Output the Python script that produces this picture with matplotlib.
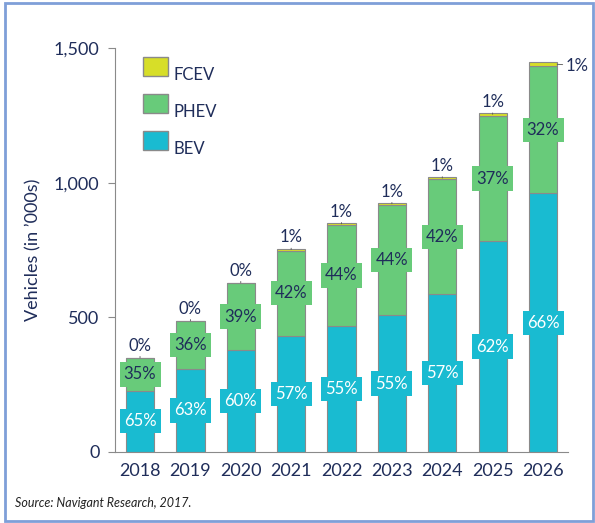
import numpy as np
import matplotlib.pyplot as plt
from matplotlib.patches import Rectangle

years = ["2018", "2019", "2020", "2021", "2022", "2023", "2024", "2025", "2026"]
bev = [227, 308, 378, 431, 468, 507, 585, 782, 960]
phev = [122, 178, 249, 317, 375, 410, 427, 466, 472]
fcev = [1, 1, 2, 7, 8, 9, 10, 12, 16]
bev_pct = ["65%", "63%", "60%", "57%", "55%", "55%", "57%", "62%", "66%"]
phev_pct = ["35%", "36%", "39%", "42%", "44%", "44%", "42%", "37%", "32%"]
fcev_pct = ["0%", "0%", "0%", "1%", "1%", "1%", "1%", "1%", "1%"]
series = ["FCEV", "PHEV", "BEV"]

navy = "#1f2d5a"
c_bev = "#19bbd1"
c_phev = "#68cb7a"
c_fcev = "#d7de28"
edge = "#8a8a8a"

plt.rcParams['font.family'] = ['Lato', 'DejaVu Sans']

fig = plt.figure(figsize=(5.95, 5.23), dpi=100)
ax = fig.add_axes([0.193, 0.136, 0.762, 0.772])

x = np.arange(len(years))
w = 0.56
bev_a = np.array(bev)
phev_a = np.array(phev)
fcev_a = np.array(fcev)
ax.bar(x, bev_a, w, color=c_bev, edgecolor=edge, linewidth=0.8)
ax.bar(x, phev_a, w, bottom=bev_a, color=c_phev, edgecolor=edge, linewidth=0.8)
ax.bar(x, fcev_a, w, bottom=bev_a + phev_a, color=c_fcev, edgecolor=edge, linewidth=0.8)

for i in range(len(years)):
    ax.text(x[i], bev[i] / 2, bev_pct[i], ha="center", va="center", color="white",
            fontsize=12, bbox=dict(boxstyle="square,pad=0.25", fc=c_bev, ec="none"))
    ax.text(x[i], bev[i] + phev[i] / 2, phev_pct[i], ha="center", va="center", color=navy,
            fontsize=12, bbox=dict(boxstyle="square,pad=0.25", fc=c_phev, ec="none"))
    top = bev[i] + phev[i] + fcev[i]
    if i < len(years) - 1:
        ax.annotate(fcev_pct[i], xy=(x[i], top - fcev[i] / 2), xytext=(0, 3),
                    textcoords="offset points", ha="center", va="bottom", color=navy,
                    fontsize=12, arrowprops=dict(arrowstyle="-", color="#555555", lw=0.6,
                                                 shrinkA=0, shrinkB=0))
    else:
        ax.annotate(fcev_pct[i], xy=(x[i] + w / 2, top - fcev[i] / 2), xytext=(6, -1),
                    textcoords="offset points", ha="left", va="center", color=navy,
                    fontsize=12, annotation_clip=False,
                    arrowprops=dict(arrowstyle="-", color="#555555", lw=0.6,
                                    shrinkA=0, shrinkB=0))

ax.set_xlim(-0.5, 8.5)
ax.set_ylim(0, 1500)
ax.set_xticks(x)
ax.set_xticklabels(years)
ax.set_yticks([0, 500, 1000, 1500])
ax.set_yticklabels(["0", "500", "1,000", "1,500"])
ax.tick_params(axis="x", length=0, pad=8, labelsize=13, labelcolor=navy)
ax.tick_params(axis="y", length=5, width=0.8, color=edge, pad=6, labelsize=13, labelcolor=navy)
for s in ["top", "right"]:
    ax.spines[s].set_visible(False)
for s in ["left", "bottom"]:
    ax.spines[s].set_color(edge)
    ax.spines[s].set_linewidth(0.8)
ax.set_ylabel("Vehicles (in \u2019000s)", fontsize=13, color=navy, labelpad=9)

# legend: boxes with labels sitting near their bottom edge
for k, (name, col) in enumerate(zip(series, [c_fcev, c_phev, c_bev])):
    y0 = 0.978 - 0.0915 * k
    ax.add_patch(Rectangle((0.062, y0 - 0.047), 0.055, 0.047, transform=ax.transAxes,
                           fc=col, ec=edge, lw=1.0, clip_on=False))
    ax.text(0.130, y0 - 0.057, name, transform=ax.transAxes, ha="left", va="baseline",
            fontsize=12, color=navy)

fig.text(0.025, 0.03, "Source: Navigant Research, 2017.", fontsize=9, style="italic", color="#222222")

fig.patches.append(Rectangle((0.008, 0.004), 0.988, 0.99, transform=fig.transFigure,
                             fill=False, edgecolor="#7f9fd8", linewidth=2))

fig.savefig("out.png", dpi=100)
